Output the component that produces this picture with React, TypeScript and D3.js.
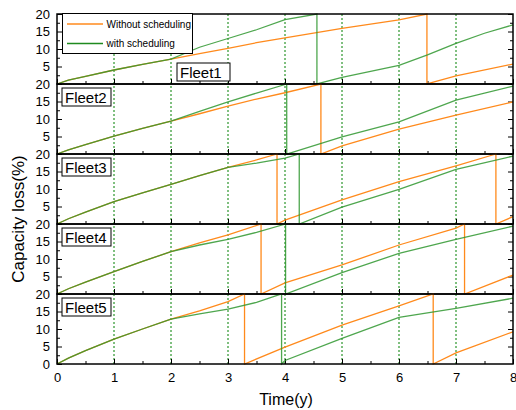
import React, { useRef, useEffect } from "react";
import * as d3 from "d3";

// capacity loss (%) over time (years)
// each series restarts at 0 when the pack reaches 20% (replacement)
const fleetNames = ["Fleet1", "Fleet2", "Fleet3", "Fleet4", "Fleet5"];
const seriesNames = ["Without scheduling", "with scheduling"];

const fleet1Without = [[0, 0], [0.2, 1.1], [0.5, 2.2], [1, 4.0], [1.5, 5.6], [2, 7.1], [2.5, 8.7], [3, 10.2], [3.5, 11.8], [4, 13.2], [5, 15.9], [6, 18.3], [6.49, 20], [6.49, 0], [7, 2.3], [8, 5.7]];
const fleet1With = [[0, 0], [0.2, 1.1], [0.5, 2.2], [1, 4.0], [1.5, 5.6], [2, 7.1], [2.5, 10.5], [3, 13.0], [3.5, 15.5], [4, 18.4], [4.56, 20], [4.56, 0], [5, 1.9], [6, 5.3], [6.5, 8.3], [7, 11.6], [7.5, 14.5], [8, 16.9]];

const fleet2Without = [[0, 0], [0.2, 1.2], [0.5, 2.7], [1, 5.1], [1.5, 7.3], [2, 9.4], [2.5, 11.5], [3, 13.7], [3.5, 15.7], [4, 17.5], [4.63, 20], [4.63, 0], [5, 2.3], [6, 7.1], [7, 11.1], [8, 14.9]];
const fleet2With = [[0, 0], [0.2, 1.2], [0.5, 2.7], [1, 5.1], [1.5, 7.3], [2, 9.4], [2.5, 12.2], [3, 14.9], [3.5, 17.4], [4.03, 20], [4.03, 0], [5, 4.9], [6, 9.2], [7, 15.4], [8, 19.4]];

const fleet3Without = [[0, 0], [0.2, 1.5], [0.5, 3.4], [1, 6.4], [1.5, 8.9], [2, 11.3], [2.5, 13.8], [3, 16.2], [3.5, 18.3], [3.86, 20], [3.86, 0], [4, 1.1], [5, 6.9], [6, 12.1], [7, 16.6], [7.7, 20], [7.7, 0], [8, 2.1]];
const fleet3With = [[0, 0], [0.2, 1.5], [0.5, 3.4], [1, 6.4], [1.5, 8.9], [2, 11.3], [2.5, 13.8], [3, 16.2], [3.5, 17.4], [4, 18.8], [4.25, 20], [4.25, 0], [5, 4.8], [6, 9.9], [7, 15.6], [8, 19.4]];

const fleet4Without = [[0, 0], [0.2, 1.5], [0.5, 3.4], [1, 6.4], [1.5, 9.3], [2, 12.1], [2.5, 14.6], [3, 16.9], [3.58, 20], [3.58, 0], [4, 3.2], [5, 8.3], [6, 14.0], [7, 18.8], [7.15, 20], [7.15, 0], [8, 5.4]];
const fleet4With = [[0, 0], [0.2, 1.5], [0.5, 3.4], [1, 6.4], [1.5, 9.3], [2, 12.1], [2.5, 14.0], [3, 15.6], [3.5, 17.6], [4.01, 20], [4.01, 0], [5, 6.1], [6, 11.6], [7, 15.6], [8, 19.4]];

const fleet5Without = [[0, 0], [0.2, 1.7], [0.5, 3.8], [1, 7.1], [1.5, 10.0], [2, 12.8], [2.5, 15.2], [3, 17.8], [3.29, 20], [3.29, 0], [4, 4.8], [5, 11.1], [6, 16.6], [6.6, 20], [6.6, 0], [7, 3.2], [8, 9.2]];
const fleet5With = [[0, 0], [0.2, 1.7], [0.5, 3.8], [1, 7.1], [1.5, 10.0], [2, 12.8], [2.5, 14.3], [3, 15.7], [3.5, 17.6], [3.94, 20], [3.94, 0], [4, 1.0], [5, 7.3], [6, 13.3], [7, 15.9], [8, 18.8]];

const withoutSeries = [fleet1Without, fleet2Without, fleet3Without, fleet4Without, fleet5Without];
const withSeries = [fleet1With, fleet2With, fleet3With, fleet4With, fleet5With];

const xTicks = [0, 1, 2, 3, 4, 5, 6, 7, 8];
const xMinorTicks = [0.5, 1.5, 2.5, 3.5, 4.5, 5.5, 6.5, 7.5];
const yTicks = [5, 10, 15, 20];
const yMinorTicks = [2.5, 7.5, 12.5, 17.5];
const gridYears = [1, 2, 3, 4, 5, 6, 7];

const ORANGE = "#ff8a1c";
const GREEN = "#2f962f";
const FONT = "Arial, 'Liberation Sans', sans-serif";

const App = () => {
  const svgRef = useRef(null);

  useEffect(() => {
    const svg = d3.select(svgRef.current);
    svg.selectAll("*").remove();

    const left = 57, right = 513, top = 14, panelH = 70;
    const n = fleetNames.length;
    const bottom = top + panelH * n;

    const x = d3.scaleLinear().domain([0, 8]).range([left, right]);

    // dotted yearly grid across all panels
    svg
      .append("g")
      .selectAll("line")
      .data(gridYears)
      .join("line")
      .attr("x1", d => x(d))
      .attr("x2", d => x(d))
      .attr("y1", top)
      .attr("y2", bottom)
      .attr("stroke", "#008000")
      .attr("stroke-width", 1)
      .attr("stroke-dasharray", "2,2");

    fleetNames.forEach((name, i) => {
      const pTop = top + panelH * i;
      const y = d3.scaleLinear().domain([0, 20]).range([pTop + panelH, pTop]);
      const g = svg.append("g");

      const ticks = i === n - 1 ? [0, ...yTicks] : yTicks;

      // left axis, ticks inside
      const ya = g
        .append("g")
        .attr("transform", `translate(${left},0)`)
        .call(d3.axisLeft(y).tickValues(ticks).tickSizeInner(-5).tickSizeOuter(0).tickPadding(7));
      ya.selectAll("text").attr("font-size", 13).attr("font-family", FONT).attr("fill", "#000");
      g.append("g")
        .attr("transform", `translate(${left},0)`)
        .call(d3.axisLeft(y).tickValues(yMinorTicks).tickSizeInner(-3).tickSizeOuter(0).tickFormat(() => ""));

      // right axis
      g.append("g")
        .attr("transform", `translate(${right},0)`)
        .call(d3.axisRight(y).tickValues(yTicks).tickSizeInner(-5).tickSizeOuter(0).tickFormat(() => ""));
      g.append("g")
        .attr("transform", `translate(${right},0)`)
        .call(d3.axisRight(y).tickValues(yMinorTicks).tickSizeInner(-3).tickSizeOuter(0).tickFormat(() => ""));

      // bottom axis
      const xa = g
        .append("g")
        .attr("transform", `translate(0,${pTop + panelH})`)
        .call(
          d3.axisBottom(x).tickValues(xTicks).tickSizeInner(-5).tickSizeOuter(0).tickPadding(9)
            .tickFormat(d => (i === n - 1 ? String(d) : ""))
        );
      xa.selectAll("text").attr("font-size", 13).attr("font-family", FONT).attr("fill", "#000");
      g.append("g")
        .attr("transform", `translate(0,${pTop + panelH})`)
        .call(d3.axisBottom(x).tickValues(xMinorTicks).tickSizeInner(-3).tickSizeOuter(0).tickFormat(() => ""));

      g.selectAll(".domain").remove();
      g.selectAll(".tick line").attr("stroke", "#000").attr("stroke-width", 1);

      const line = d3
        .line<number[]>()
        .x(d => x(d[0]))
        .y(d => y(d[1]));

      g.append("path")
        .attr("d", line(withoutSeries[i]))
        .attr("fill", "none")
        .attr("stroke", ORANGE)
        .attr("stroke-width", 1.3);
      g.append("path")
        .attr("d", line(withSeries[i]))
        .attr("fill", "none")
        .attr("stroke", GREEN)
        .attr("stroke-opacity", 0.85)
        .attr("stroke-width", 1.3);

      // panel frame
      g.append("rect")
        .attr("x", left)
        .attr("y", pTop)
        .attr("width", right - left)
        .attr("height", panelH)
        .attr("fill", "none")
        .attr("stroke", "#000")
        .attr("stroke-width", 1.5);

      // fleet label
      const bx = i === 0 ? 177 : 62;
      const by = i === 0 ? pTop + 49 : pTop + 4;
      g.append("rect")
        .attr("x", bx)
        .attr("y", by)
        .attr("width", i === 0 ? 53 : 49)
        .attr("height", 18)
        .attr("fill", "#fff")
        .attr("stroke", "#000")
        .attr("stroke-width", 1);
      g.append("text")
        .attr("x", bx + 3)
        .attr("y", by + 15)
        .attr("font-size", 15)
        .attr("font-family", FONT)
        .text(name);
    });

    // legend
    const lg = svg.append("g");
    lg.append("rect")
      .attr("x", 62.5)
      .attr("y", 13.5)
      .attr("width", 130)
      .attr("height", 40)
      .attr("fill", "#fff")
      .attr("stroke", "#000")
      .attr("stroke-width", 1);
    [ORANGE, "#1f8a1f"].forEach((c, k) => {
      const ly = 24 + k * 19.5;
      lg.append("line")
        .attr("x1", 67)
        .attr("x2", 103)
        .attr("y1", ly)
        .attr("y2", ly)
        .attr("stroke", c)
        .attr("stroke-width", 1.5);
      lg.append("text")
        .attr("x", 106.5)
        .attr("y", ly + 3.5)
        .attr("font-size", 10)
        .attr("font-family", FONT)
        .text(seriesNames[k]);
    });

    // axis titles
    svg
      .append("text")
      .attr("transform", "translate(24,219) rotate(-90)")
      .attr("text-anchor", "middle")
      .attr("font-size", 17)
      .attr("font-family", FONT)
      .text("Capacity loss(%)");
    svg
      .append("text")
      .attr("x", 286)
      .attr("y", 405)
      .attr("text-anchor", "middle")
      .attr("font-size", 16)
      .attr("font-family", FONT)
      .text("Time(y)");
  }, []);

  return (
    <svg
      ref={svgRef}
      width={516}
      height={410}
      style={{ position: "absolute", left: 0, top: 0, background: "#fff" }}
    />
  );
};

export default App;
